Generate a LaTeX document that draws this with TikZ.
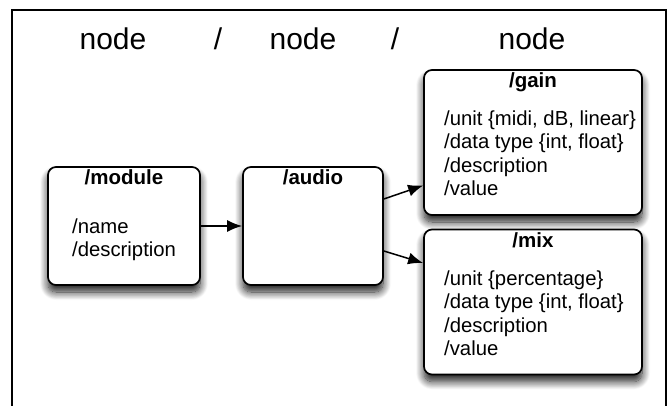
\documentclass[tikz,border=0pt]{standalone}
\usepackage{fontspec}
\setmainfont{Liberation Sans}
\usetikzlibrary{positioning,arrows.meta,shadows.blur}

\begin{document}
\begin{tikzpicture}[x=1pt,y=-1pt]
	\tikzset{
		box/.style={draw,line width=1.7pt,rounded corners=8pt,fill=white,inner sep=0pt,
			blur shadow={shadow xshift=0pt,shadow yshift=-7pt,shadow blur radius=8pt,
				shadow blur steps=14,shadow opacity=90}},
		title/.style={font=\fontsize{20.5}{24}\selectfont\bfseries,inner sep=0pt},
		items/.style={font=\fontsize{20.3}{23.5}\selectfont,align=left,inner sep=0pt,anchor=north west},
		head/.style={font=\fontsize{30}{34}\selectfont,inner sep=0pt},
		link/.style={-{Latex[length=15pt,width=12pt]},line width=1.5pt}
	}
	\useasboundingbox (0,0) rectangle (669,406);

	%% outer frame
	\draw[line width=2pt] (12,406) -- (12,10) -- (666,10) -- (666,406);

	%% header
	\node[head] (hnode1) at (113,39) {node};
	\node[head] (hsep1) at (218,39) {/};
	\node[head] (hnode2) at (303,39) {node};
	\node[head] (hsep2) at (395,39) {/};
	\node[head] (hnode3) at (532,39) {node};

	%% boxes
	\node[box,minimum width=152pt,minimum height=118pt] (module) at (124,226) {};
	\node[box,minimum width=140pt,minimum height=118pt] (audio) at (313,226) {};
	\node[box,minimum width=218pt,minimum height=145pt] (gain) at (533,142.5) {};
	\node[box,minimum width=218pt,minimum height=145pt] (mix) at (533,302) {};

	%% titles and contents
	\node[title] (tmodule) at (124,177) {/module};
	\node[title] (taudio) at (313,177) {/audio};
	\node[title] (tgain) at (533,82) {/gain};
	\node[title] (tmix) at (533,240) {/mix};

	\node[items] (lmodule) at (72,218.5) {/name\\/description};
	\node[items] (lgain) at (444,110.5) {/unit \{midi, dB, linear\}\\/data type \{int, float\}\\/description\\/value};
	\node[items] (lmix) at (444,270.5) {/unit \{percentage\}\\/data type \{int, float\}\\/description\\/value};

	%% connections
	\path[link]
		(module.east) edge (audio.west)
		([yshift=27pt]audio.east) edge ([yshift=-43pt]gain.west)
		([yshift=-25pt]audio.east) edge ([yshift=39pt]mix.west);
\end{tikzpicture}
\end{document}
